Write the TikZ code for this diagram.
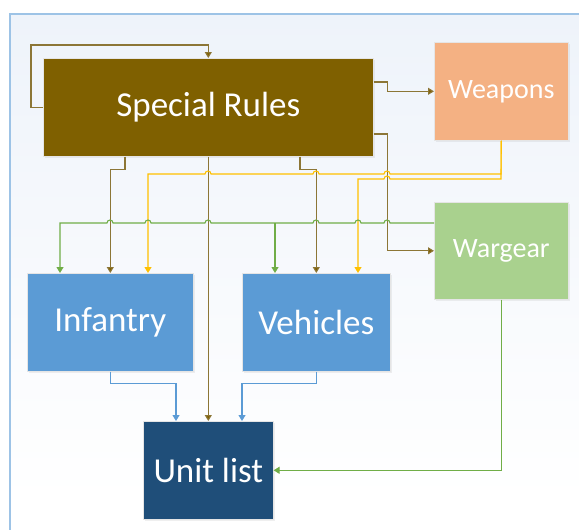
\documentclass[tikz,border=0pt]{standalone}
\usepackage{fontspec}
\setmainfont{Carlito}
\usetikzlibrary{arrows.meta,shadows}
\definecolor{srbrown}{HTML}{7F6000}
\definecolor{lnbrown}{HTML}{8C7636}
\definecolor{weapcol}{HTML}{F4B183}
\definecolor{wgcol}{HTML}{A9D18E}
\definecolor{bluecol}{HTML}{5B9BD5}
\definecolor{ulcol}{HTML}{1F4E79}
\definecolor{yelcol}{HTML}{FFC000}
\definecolor{grncol}{HTML}{70AD47}
\definecolor{framecol}{HTML}{9DC3E6}
\definecolor{bgtop}{HTML}{EEF3FA}
\tikzset{
  box/.style={draw=white!80!gray, line width=0.6pt, inner sep=0pt, anchor=north west, text=white,
    drop shadow={opacity=0.12, shadow xshift=1.5pt, shadow yshift=-1.5pt}},
  bigtxt/.style={font=\fontsize{35}{40}\selectfont},
  smalltxt/.style={font=\fontsize{28}{33}\selectfont},
  brn/.style={draw=lnbrown, line width=1.1pt, -{Triangle[width=7pt,length=6pt,fill=srbrown]}},
  yel/.style={draw=yelcol, line width=1.1pt, -{Triangle[width=7pt,length=6pt]}},
  grn/.style={draw=grncol, line width=1.1pt, -{Triangle[width=7pt,length=6pt]}},
  blu/.style={draw=bluecol, line width=1.1pt, -{Triangle[width=7pt,length=6pt]}}
}
\begin{document}
\begin{tikzpicture}[x=1pt,y=-1pt]
\useasboundingbox (0,0) rectangle (579,530);
% background frame
\shade[top color=bgtop, bottom color=white] (10,14) rectangle (590,500);
\fill[white] (10,500) rectangle (590,540);
\draw[framecol, line width=1.3pt] (10,545) -- (10,14) -- (590,14);

% boxes
\node[box, fill=srbrown, minimum width=330pt, minimum height=98pt, bigtxt] (sr) at (43,58) {Special Rules};
\node[box, fill=weapcol, minimum width=134pt, minimum height=98pt, smalltxt] (weap) at (434,42) {Weapons};
\node[box, fill=wgcol, minimum width=134pt, minimum height=97pt, smalltxt] (wg) at (434,202) {Wargear};
\node[box, fill=bluecol, minimum width=166pt, minimum height=98pt, bigtxt] (inf) at (27,273) {Infantry};
\node[box, fill=bluecol, minimum width=148pt, minimum height=98pt, bigtxt] (veh) at (242,273) {Vehicles};
\node[box, fill=ulcol, minimum width=130pt, minimum height=98pt, bigtxt] (ul) at (143,421) {Unit list};

% named points
\coordinate (iG) at ([xshift=33pt]inf.north west);
\coordinate (iY) at ([xshift=121pt]inf.north west);
\coordinate (vG) at ([xshift=33pt]veh.north west);
\coordinate (vY) at ([xshift=116pt]veh.north west);
\coordinate (g0) at ([yshift=-21pt]wg.north west);
\coordinate (uB1) at ([xshift=33pt]ul.north west);
\coordinate (uB2) at ([xshift=99pt]ul.north west);

% Special Rules self loop
\draw[brn] (sr.west) -- ++(-12,0) |- ([yshift=13pt]sr.north) -- (sr.north);
% Special Rules -> Weapons
\draw[brn] ([yshift=-24pt]sr.north east) -- ++(14,0) |- (weap.west);
% Special Rules -> Wargear
\draw[brn] ([yshift=-76pt]sr.north east) -- ++(14,0) |- (wg.west);
% Special Rules -> Infantry
\draw[brn] ([xshift=82pt]sr.south west) -- ++(0,13) -| (inf.north);
% Special Rules -> Vehicles
\draw[brn] ([xshift=257pt]sr.south west) -- ++(0,13) -| (veh.north);
% Special Rules -> Unit list
\draw[brn] (sr.south) -- (sr.south |- ul.north);

% Weapons -> Infantry (yellow, with hops)
\draw[yel] (weap.south) -- (501,174) -- (390,174)
  arc[start angle=0,end angle=180,radius=3pt] -- (319,174)
  arc[start angle=0,end angle=180,radius=3pt] -- (211,174)
  arc[start angle=0,end angle=180,radius=3pt] -- (iY |- 0,174) -- (iY);
% Weapons -> Vehicles
\draw[yel] (weap.south) -- (501,179) -- (390,179)
  arc[start angle=0,end angle=180,radius=3pt] -- (vY |- 0,179) -- (vY);

% Wargear -> Infantry (green, with hops)
\draw[grn] (g0) -- (390,223)
  arc[start angle=0,end angle=180,radius=3pt] -- (361,223)
  arc[start angle=0,end angle=180,radius=3pt] -- (319,223)
  arc[start angle=0,end angle=180,radius=3pt] -- (211,223)
  arc[start angle=0,end angle=180,radius=3pt] -- (151,223)
  arc[start angle=0,end angle=180,radius=3pt] -- (113,223)
  arc[start angle=0,end angle=180,radius=3pt] -- (iG |- g0) -- (iG);
% Wargear -> Vehicles
\draw[grn] (vG |- g0) -- (vG);
% Wargear -> Unit list
\draw[grn] (wg.south) |- (ul.east);

% Infantry / Vehicles -> Unit list
\draw[blu] (inf.south) -- ++(0,12) -| (uB1);
\draw[blu] (veh.south) -- ++(0,12) -| (uB2);
\end{tikzpicture}
\end{document}
